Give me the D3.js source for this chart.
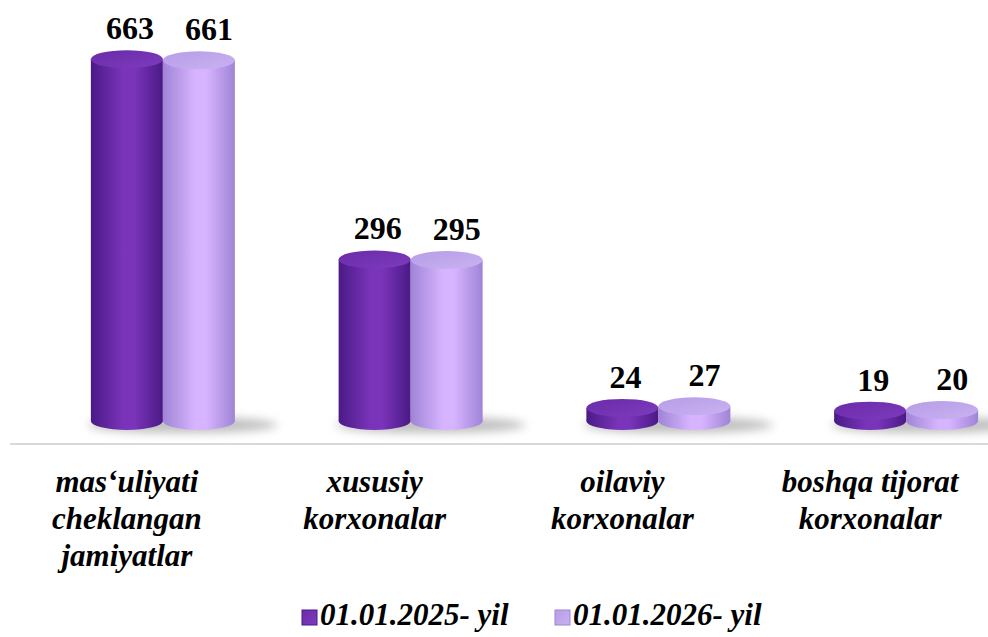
<!DOCTYPE html>
<html>
<head>
<meta charset="utf-8">
</head>
<body style="margin:0;background:#fff">
<div class="viz"></div>
<script src="https://cdnjs.cloudflare.com/ajax/libs/d3/7.8.5/d3.min.js"></script>
<script>
// chart data
var categories = [
    ["mas‘uliyati", "cheklangan", "jamiyatlar"],
    ["xususiy", "korxonalar"],
    ["oilaviy", "korxonalar"],
    ["boshqa tijorat", "korxonalar"]
];
var seriesNames = ["01.01.2025- yil", "01.01.2026- yil"];
var values2025 = [663, 296, 24, 19];
var values2026 = [661, 295, 27, 20];

var width = 988, height = 637;
var depth = 36;      // perspective shift of bars vs labels
var ry = 9;          // cylinder ellipse radius
var serif = "'Times New Roman', 'Liberation Serif', Tinos, serif";

// colours per series: edge, centre, top
var palette = [
    { edge: "#4a1a86", mid: "#7a34ba", top: "#6b2aa8", topHi: "#7d3cbd" },
    { edge: "#9f84d6", mid: "#d7b4ff", top: "#b79de6", topHi: "#c9b2f2" }
];

var svg = d3.select(".viz").append("svg")
    .attr("width", width)
    .attr("height", height)
    .style("display", "block");

var defs = svg.append("defs");
palette.forEach(function (p, i) {
    var g = defs.append("linearGradient").attr("id", "body" + i)
        .attr("x1", "0%").attr("x2", "100%");
    g.append("stop").attr("offset", "0%").attr("stop-color", p.edge);
    g.append("stop").attr("offset", "45%").attr("stop-color", p.mid);
    g.append("stop").attr("offset", "60%").attr("stop-color", p.mid);
    g.append("stop").attr("offset", "100%").attr("stop-color", p.edge);
    var t = defs.append("linearGradient").attr("id", "top" + i)
        .attr("x1", "0%").attr("x2", "100%").attr("y1", "0%").attr("y2", "100%");
    t.append("stop").attr("offset", "0%").attr("stop-color", p.top);
    t.append("stop").attr("offset", "100%").attr("stop-color", p.topHi);
});
defs.append("filter").attr("id", "blur")
    .attr("x", "-50%").attr("y", "-200%").attr("width", "200%").attr("height", "500%")
    .append("feGaussianBlur").attr("stdDeviation", 5);

var x = d3.scaleBand()
    .domain(d3.range(categories.length))
    .range([3, 994]);

var x1 = d3.scaleBand()
    .domain([0, 1])
    .range([-72, 72]);

var y = d3.scaleLinear()
    .domain([0, 700])
    .range([421, 39]);

// axis line
svg.append("line")
    .attr("x1", 10).attr("x2", width)
    .attr("y1", 444).attr("y2", 444)
    .attr("stroke", "#d9d9d9")
    .attr("stroke-width", 2);

var rows = [];
categories.forEach(function (c, i) {
    rows.push({ cat: i, s: 0, v: values2025[i] });
    rows.push({ cat: i, s: 1, v: values2026[i] });
});

// shadows
svg.append("g").selectAll("ellipse")
    .data(categories.map(function (c, i) { return i; }))
    .join("ellipse")
    .attr("cx", function (d) { return x(d) + x.bandwidth() / 2 + depth + 20; })
    .attr("cy", y(0) + 4)
    .attr("rx", 95)
    .attr("ry", 8)
    .attr("fill", "#8a8a8a")
    .attr("opacity", 0.55)
    .attr("filter", "url(#blur)");

var bars = svg.append("g").selectAll("g")
    .data(rows)
    .join("g")
    .attr("transform", function (d) {
        return "translate(" + (x(d.cat) + x.bandwidth() / 2 + depth + x1(d.s)) + ",0)";
    });

var bw = x1.bandwidth();

bars.append("ellipse")
    .attr("cx", bw / 2)
    .attr("cy", y(0))
    .attr("rx", bw / 2)
    .attr("ry", ry)
    .attr("fill", function (d) { return "url(#body" + d.s + ")"; });

bars.append("rect")
    .attr("x", 0)
    .attr("width", bw)
    .attr("y", function (d) { return y(d.v); })
    .attr("height", function (d) { return y(0) - y(d.v); })
    .attr("fill", function (d) { return "url(#body" + d.s + ")"; });

bars.append("ellipse")
    .attr("cx", bw / 2)
    .attr("cy", function (d) { return y(d.v); })
    .attr("rx", bw / 2)
    .attr("ry", ry)
    .attr("fill", function (d) { return "url(#top" + d.s + ")"; });

// value labels
svg.append("g").selectAll("text")
    .data(rows)
    .join("text")
    .attr("font-family", serif)
    .style("font-family", serif, "important")
    .attr("font-size", 32)
    .attr("font-weight", "bold")
    .attr("text-anchor", "middle")
    .attr("x", function (d) {
        return x(d.cat) + x.bandwidth() / 2 + depth + x1(d.s) + bw / 2 + (d.s === 0 ? 3 : 10);
    })
    .attr("y", function (d) { return y(d.v) - 20; })
    .text(function (d) { return d.v; });

// category labels, one text per line
var catLines = [];
categories.forEach(function (c, i) {
    c.forEach(function (line, j) { catLines.push({ cat: i, line: j, text: line }); });
});
svg.append("g").selectAll("text")
    .data(catLines)
    .join("text")
    .attr("font-family", serif)
    .style("font-family", serif, "important")
    .attr("font-size", 31)
    .attr("font-weight", "bold")
    .attr("font-style", "italic")
    .attr("text-anchor", "middle")
    .attr("x", function (d) { return x(d.cat) + x.bandwidth() / 2; })
    .attr("y", function (d) { return 492 + d.line * 37; })
    .text(function (d) { return d.text; });

// legend
var legendX = d3.scaleBand()
    .domain(seriesNames)
    .range([302, 808]);
svg.append("g").selectAll("rect")
    .data(seriesNames)
    .join("rect")
    .attr("x", function (d) { return legendX(d); })
    .attr("y", 610)
    .attr("width", 15).attr("height", 15)
    .attr("fill", function (d, i) { return "url(#top" + i + ")"; })
    .attr("stroke", function (d, i) { return palette[i].edge; })
    .attr("stroke-width", 1);
svg.append("g").selectAll("text")
    .data(seriesNames)
    .join("text")
    .attr("font-family", serif)
    .style("font-family", serif, "important")
    .attr("font-size", 31)
    .attr("font-weight", "bold")
    .attr("font-style", "italic")
    .attr("x", function (d) { return legendX(d) + 18; })
    .attr("y", 625)
    .text(function (d) { return d; });
</script>
</body>
</html>
